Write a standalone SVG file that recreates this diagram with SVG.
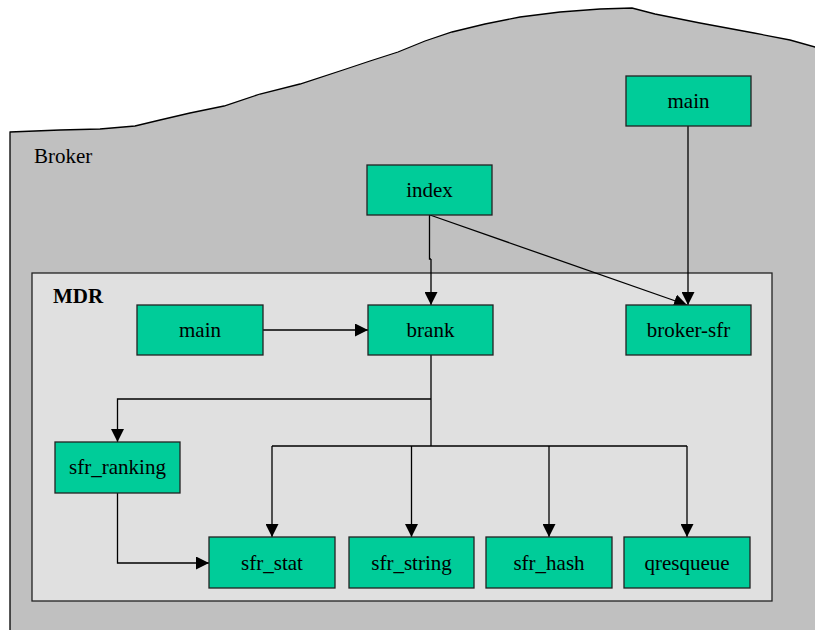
<svg xmlns="http://www.w3.org/2000/svg" width="815" height="630" viewBox="0 0 815 630">
  <defs>
    <marker id="arrow" markerUnits="userSpaceOnUse" markerWidth="13" markerHeight="13" refX="13" refY="6.5" orient="auto">
      <path d="M0,0 L13,6.5 L0,13 z" fill="#000"/>
    </marker>
    <style>
      .node rect { fill: #00cc99; stroke: #222; stroke-width: 1.3; }
      .node text { font-family: "Liberation Serif", "Times New Roman", serif; font-size: 21px; fill: #000; text-anchor: middle; }
      .edge { fill: none; stroke: #000; stroke-width: 1.3; }
      .arrow { marker-end: url(#arrow); }
      .label { font-family: "Liberation Serif", "Times New Roman", serif; font-size: 21px; fill: #000; }
    </style>
  </defs>

  <rect width="815" height="630" fill="#fff"/>

  <!-- Broker region with its wavy top edge -->
  <g id="broker">
    <path d="M10,132 L60,130 L100,129 L135,126 L160,120 L190,113 L224,106 L260,94 L300,84 L343,70 L370,61 L398,52 L425,41 L452,32 L485,24 L520,17 L560,12 L600,9 L632,8 L655,14 L700,23 L754,33 L790,40 L815,47 L820,48 L820,640 L10,640 Z" fill="#c0c0c0" stroke="#000" stroke-width="1.3"/>
    <text class="label" x="34" y="163">Broker</text>
  </g>

  <!-- MDR container -->
  <g id="mdr">
    <rect x="32" y="273" width="740" height="328" fill="#e0e0e0" stroke="#222" stroke-width="1.3"/>
    <text class="label" x="53" y="303" font-weight="bold">MDR</text>
  </g>

  <!-- connectors -->
  <g id="connectors">
    <path class="edge arrow" d="M688,126 L688,305"/>
    <path class="edge" d="M429.5,215 L429.5,259 L431,259"/>
    <path class="edge arrow" d="M431,259 L431,305"/>
    <path class="edge arrow" d="M430,215 L687,305"/>
    <path class="edge arrow" d="M263,330 L368,330"/>
    <path class="edge" d="M431,355 L431,446" stroke-width="2.2"/>
    <path class="edge arrow" d="M431,399 L117.5,399 L117.5,442"/>
    <path class="edge" d="M272,446 L687,446"/>
    <path class="edge arrow" d="M272,446 L272,537"/>
    <path class="edge arrow" d="M411.5,446 L411.5,537"/>
    <path class="edge arrow" d="M549,446 L549,537"/>
    <path class="edge arrow" d="M687,446 L687,537"/>
    <path class="edge arrow" d="M117.5,493 L117.5,563 L209,563"/>
  </g>

  <!-- nodes -->
  <g id="broker-main" class="node">
    <rect x="626" y="76" width="125" height="50"/>
    <text x="688.5" y="108">main</text>
  </g>
  <g id="index" class="node">
    <rect x="367" y="165" width="125" height="50"/>
    <text x="429.5" y="197">index</text>
  </g>
  <g id="mdr-main" class="node">
    <rect x="137" y="305" width="126" height="50"/>
    <text x="200" y="337">main</text>
  </g>
  <g id="brank" class="node">
    <rect x="368" y="305" width="125" height="50"/>
    <text x="430.5" y="337">brank</text>
  </g>
  <g id="broker-sfr" class="node">
    <rect x="626" y="305" width="125" height="50"/>
    <text x="688.5" y="337">broker-sfr</text>
  </g>
  <g id="sfr_ranking" class="node">
    <rect x="55" y="442" width="125" height="51"/>
    <text x="117.5" y="474">sfr_ranking</text>
  </g>
  <g id="sfr_stat" class="node">
    <rect x="209" y="537" width="126" height="51"/>
    <text x="272" y="570">sfr_stat</text>
  </g>
  <g id="sfr_string" class="node">
    <rect x="349" y="537" width="125" height="51"/>
    <text x="411.5" y="570">sfr_string</text>
  </g>
  <g id="sfr_hash" class="node">
    <rect x="486" y="537" width="126" height="51"/>
    <text x="549" y="570">sfr_hash</text>
  </g>
  <g id="qresqueue" class="node">
    <rect x="624" y="537" width="126" height="51"/>
    <text x="687" y="570">qresqueue</text>
  </g>
</svg>
